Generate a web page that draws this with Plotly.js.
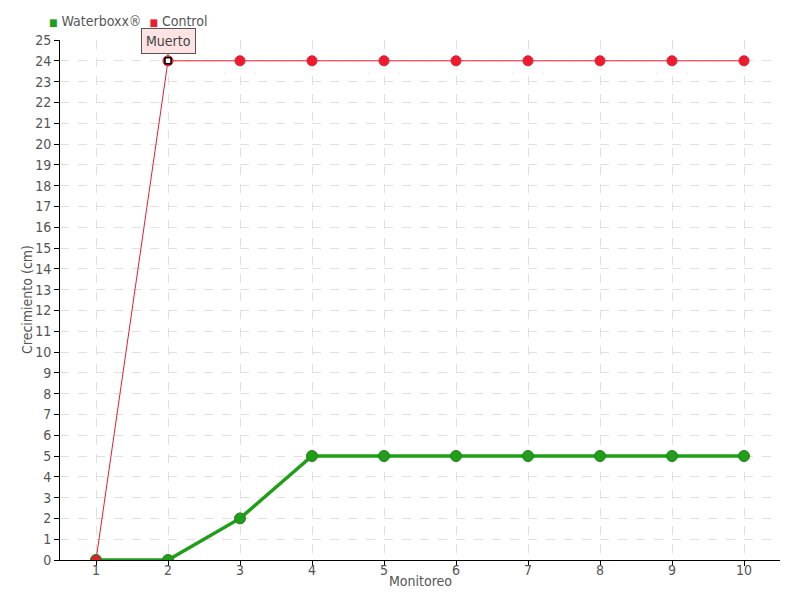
<!DOCTYPE html>
<html><head><meta charset="utf-8">
<script src="https://cdn.plot.ly/plotly-3.0.1.min.js"></script>
<style>body{margin:0;background:#fff}#c{width:800px;height:600px}</style>
</head><body><div id="c"></div>
<script>
const monitoreo = [1,2,3,4,5,6,7,8,9,10];
const waterboxx = [0,0,2,5,5,5,5,5,5,5];
const control = [0,24,24,24,24,24,24,24,24,24];
const seriesNames = ['Waterboxx®','Control'];
const deadIndex = 1; // control point marked "Muerto"
const deadLabel = 'Muerto';
const xTitle = 'Monitoreo';
const yTitle = 'Crecimiento (cm)';

const FONT = '"DejaVu Sans Condensed", "Liberation Sans Narrow", sans-serif';
const green = '#1f9e17', greenDark = '#2d7a25', red = '#ec1c2e';
const txt = '#555';

const traces = [
  {x: monitoreo, y: waterboxx, mode:'lines+markers', name:seriesNames[0],
   line:{color:green, width:3.5}, marker:{color:green, size:11, line:{color:greenDark, width:1}}},
  {x: monitoreo, y: control, mode:'lines+markers', name:seriesNames[1],
   line:{color:red, width:1},
   marker:{color:red, size:10, line:{color: control.map((v,i)=> i===0 ? greenDark : red), width:1}}},
  {x: [monitoreo[deadIndex]], y: [control[deadIndex]], mode:'markers', name:deadLabel,
   marker:{symbol:'square', color:'#fff', size:6, line:{color:'#000', width:1.5}}}
];

const sq = c => '<span style="color:'+c+';font-size:10px">■</span>';
const legendText = sq(green)+' '+seriesNames[0]+'  '+sq(red)+' '+seriesNames[1];

const layout = {
  width:800, height:600,
  margin:{l:60, r:20, t:40, b:40},
  paper_bgcolor:'#fff', plot_bgcolor:'#fff',
  font:{family:FONT, size:14, color:txt},
  showlegend:false,
  xaxis:{range:[0.5,10.5], tickvals:monitoreo, ticktext:monitoreo.map(String),
    showline:true, linecolor:'#000', linewidth:1, ticks:'outside', ticklen:5, tickcolor:'#000',
    ticklabelstandoff:-8,
    showgrid:true, gridcolor:'#e0e0e0', griddash:'dash', zeroline:false,
    tickfont:{family:FONT, size:14, color:txt}},
  yaxis:{range:[0,25], dtick:1, tick0:0,
    showline:true, linecolor:'#000', linewidth:1, ticks:'outside', ticklen:5, tickcolor:'#000',
    showgrid:true, gridcolor:'#e0e0e0', griddash:'dash', zeroline:false,
    tickfont:{family:FONT, size:14, color:txt}},
  annotations:[
    {x: monitoreo[deadIndex], y: control[deadIndex], xref:'x', yref:'y', text: deadLabel,
     showarrow:true, arrowhead:0, arrowcolor:'#555', arrowwidth:1, ax:0, ay:-20, standoff:4,
     bgcolor:'#fde3e3', bordercolor:'#555', borderwidth:1, borderpad:4,
     font:{family:FONT, size:14, color:'#444'}},
    {xref:'paper', yref:'paper', x:0.5, y:0, yshift:-21, xanchor:'center', yanchor:'middle',
     text:xTitle, showarrow:false, font:{family:FONT, size:14, color:txt}},
    {xref:'paper', yref:'paper', x:0, xshift:-33, y:0.5, xanchor:'center', yanchor:'middle',
     text:yTitle, textangle:-90, showarrow:false, font:{family:FONT, size:14, color:txt}},
    {xref:'paper', yref:'paper', x:0, xshift:-13, y:1, yshift:19, xanchor:'left', yanchor:'middle',
     text:legendText, showarrow:false, font:{family:FONT, size:14, color:txt}}
  ]
};
Plotly.newPlot('c', traces, layout, {displayModeBar:false, staticPlot:true});
</script></body></html>
